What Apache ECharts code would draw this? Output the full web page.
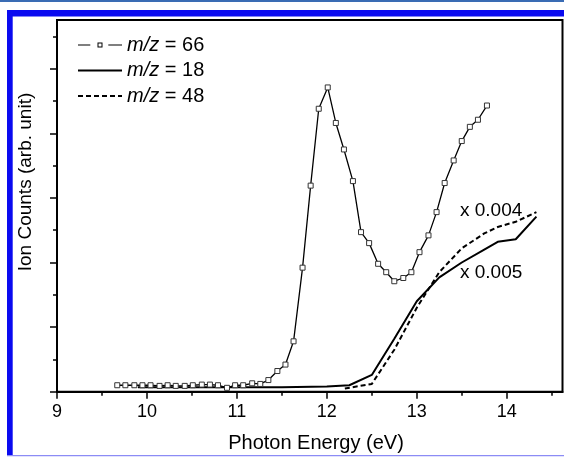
<!DOCTYPE html>
<html>
<head>
<meta charset="utf-8">
<script src="https://cdn.jsdelivr.net/npm/echarts@6.0.0/dist/echarts.min.js"></script>
<style>
  html, body { margin: 0; padding: 0; background: #fff; }
  #chart { width: 564px; height: 457px; }
</style>
</head>
<body>
<div id="chart"></div>
<script>
// photon energy (eV) of the m/z = 66 scan points
const energy66 = [9.67, 9.76, 9.86, 9.95, 10.04, 10.14, 10.23, 10.32, 10.42, 10.51,
  10.61, 10.70, 10.79, 10.89, 10.98, 11.07, 11.17, 11.26, 11.35, 11.45,
  11.54, 11.63, 11.73, 11.82, 11.91, 12.01, 12.10, 12.19, 12.29, 12.38,
  12.47, 12.57, 12.66, 12.75, 12.85, 12.94, 13.03, 13.13, 13.22, 13.31,
  13.41, 13.50, 13.59, 13.68, 13.78];
const counts66 = [0.10, 0.10, 0.10, 0.10, 0.10, 0.09, 0.10, 0.09, 0.09, 0.10,
  0.11, 0.11, 0.10, 0.06, 0.10, 0.10, 0.13, 0.12, 0.18, 0.32,
  0.42, 0.78, 1.92, 3.19, 4.38, 4.71, 4.16, 3.75, 3.26, 2.47,
  2.30, 1.98, 1.85, 1.71, 1.76, 1.85, 2.16, 2.42, 2.78, 3.23,
  3.58, 3.88, 4.10, 4.21, 4.43];

// m/z = 18 (x 0.005)
const energy18 = [9.9, 10.5, 11.0, 11.5, 12.0, 12.25, 12.5, 12.75, 13.0, 13.25, 13.5, 13.75, 13.9, 14.1, 14.33];
const counts18 = [0.07, 0.07, 0.07, 0.07, 0.08, 0.10, 0.26, 0.82, 1.40, 1.77, 2.00, 2.20, 2.32, 2.36, 2.71];

// m/z = 48 (x 0.004)
const energy48 = [12.2, 12.5, 12.75, 13.0, 13.25, 13.5, 13.75, 13.9, 14.1, 14.33];
const counts48 = [0.05, 0.12, 0.65, 1.30, 1.85, 2.22, 2.45, 2.55, 2.63, 2.78];

const xMajor = [9, 10, 11, 12, 13, 14];
const xMinor = [9.5, 10.5, 11.5, 12.5, 13.5, 14.5];
const yMajor = [0, 1, 2, 3, 4, 5];
const yMinor = [0.5, 1.5, 2.5, 3.5, 4.5, 5.5];

const FONT = "'Liberation Sans', Arial, sans-serif";
const X_MIN = 9, X_MAX = 14.62, Y_MIN = 0, Y_MAX = 5.754;

// legend icon: line - open square - line
const ICON_66 = 'path://M0,2.9h12.3v1.2h-12.3z M30.3,2.9h13.7v1.2h-13.7z M19.5,1h5v5h-5z M20.5,2v3h3v-3z';

function pairs(xs, ys) {
  return xs.map((x, i) => [x, ys[i]]);
}

const chart = echarts.init(document.getElementById('chart'), null, { renderer: 'canvas' });

const option = {
  backgroundColor: '#fff',
  animation: false,
  grid: {
    left: 57, right: 1.5, top: 20, bottom: 65.3,
    show: true, borderColor: '#000', borderWidth: 2, backgroundColor: 'transparent'
  },
  legend: {
    orient: 'vertical',
    left: 72, top: 29,
    itemWidth: 44, itemHeight: 7, itemGap: 3.5,
    textStyle: {
      fontFamily: FONT, fontSize: 20, color: '#000', lineHeight: 22,
      rich: { i: { fontFamily: FONT, fontSize: 20, fontStyle: 'italic', color: '#000' } }
    },
    formatter: name => name.replace('m/z', '{i|m/z}'),
    data: [
      { name: 'm/z = 66', icon: ICON_66, itemStyle: { color: '#000', borderWidth: 0 } },
      { name: 'm/z = 18', itemStyle: { opacity: 0, color: 'rgba(0,0,0,0)', borderWidth: 0 } },
      { name: 'm/z = 48', itemStyle: { opacity: 0, color: 'rgba(0,0,0,0)', borderWidth: 0 } }
    ]
  },
  xAxis: [{
    type: 'value', min: X_MIN, max: X_MAX, position: 'bottom',
    axisLine: { lineStyle: { color: '#000', width: 2 } },
    axisTick: { inside: false, length: 7, lineStyle: { color: '#000', width: 1.5 }, customValues: xMajor },
    axisLabel: { customValues: xMajor, margin: 11, fontFamily: FONT, fontSize: 18, color: '#000' },
    splitLine: { show: false }
  }, {
    type: 'value', min: X_MIN, max: X_MAX, position: 'bottom', offset: 0,
    axisLine: { show: false },
    axisTick: { inside: false, length: 4, lineStyle: { color: '#000', width: 1.5 }, customValues: xMinor },
    axisLabel: { show: false },
    splitLine: { show: false }
  }],
  yAxis: [{
    type: 'value', min: Y_MIN, max: Y_MAX, position: 'left',
    axisLine: { show: true, lineStyle: { color: '#000', width: 2 } },
    axisTick: { show: true, inside: false, length: 7, lineStyle: { color: '#000', width: 1.5 }, customValues: yMajor },
    axisLabel: { show: false },
    splitLine: { show: false }
  }, {
    type: 'value', min: Y_MIN, max: Y_MAX, position: 'left', offset: 0,
    axisLine: { show: false },
    axisTick: { show: true, inside: false, length: 4, lineStyle: { color: '#000', width: 1.5 }, customValues: yMinor },
    axisLabel: { show: false },
    splitLine: { show: false }
  }],
  series: [
    {
      name: 'm/z = 66', type: 'line', z: 5,
      data: pairs(energy66, counts66),
      symbol: 'rect', symbolSize: 5,
      itemStyle: { color: '#fff', borderColor: '#333', borderWidth: 1 },
      lineStyle: { color: '#000', width: 1.3 }
    },
    {
      name: 'm/z = 18', type: 'line', z: 3,
      data: pairs(energy18, counts18),
      symbol: 'none',
      itemStyle: { color: '#000' },
      lineStyle: { color: '#000', width: 2 }
    },
    {
      name: 'm/z = 48', type: 'line', z: 3,
      data: pairs(energy48, counts48),
      symbol: 'none',
      itemStyle: { color: '#000' },
      lineStyle: { color: '#000', width: 2, type: [5, 3] }
    }
  ],
  graphic: [
    // blue page frame
    { type: 'rect', shape: { x: 0, y: 0, width: 564, height: 2 }, style: { fill: '#3a6cb4' }, silent: true },
    { type: 'rect', shape: { x: 7, y: 10, width: 557, height: 6.5 }, style: { fill: '#0a0af0' }, silent: true },
    { type: 'rect', shape: { x: 7, y: 10, width: 5.7, height: 446 }, style: { fill: '#0a0af0' }, silent: true },
    { type: 'rect', shape: { x: 7, y: 455, width: 557, height: 1.2 }, style: { fill: '#8c8cf5' }, silent: true },
    // axis titles
    {
      type: 'text', x: 26, y: 182, rotation: Math.PI / 2,
      style: { text: 'Ion Counts (arb. unit)', font: "19px 'Liberation Sans', Arial", fill: '#000', align: 'center', verticalAlign: 'middle' }
    },
    {
      type: 'text', x: 316, y: 443,
      style: { text: 'Photon Energy (eV)', font: "20px 'Liberation Sans', Arial", fill: '#000', align: 'center', verticalAlign: 'middle' }
    },
    // scale factors
    {
      type: 'text', x: 460, y: 211,
      style: { text: 'x 0.004', font: "19px 'Liberation Sans', Arial", fill: '#000', align: 'left', verticalAlign: 'middle' }
    },
    {
      type: 'text', x: 460, y: 273,
      style: { text: 'x 0.005', font: "19px 'Liberation Sans', Arial", fill: '#000', align: 'left', verticalAlign: 'middle' }
    }
  ]
};

chart.setOption(option);
</script>
</body>
</html>
